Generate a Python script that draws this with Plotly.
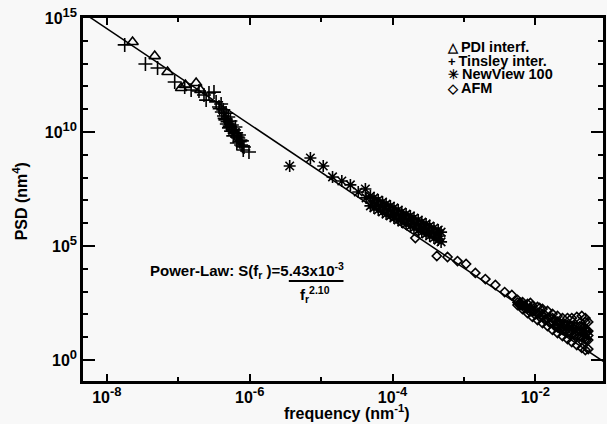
import numpy as np
import plotly.graph_objects as go

# ---- data (log10 of frequency [nm^-1] and log10 of PSD [nm^4]) ----
pdi_log_freq = [-7.64, -7.33, -7.15, -6.96, -6.90, -6.75, -6.69]
pdi_log_psd = [13.95, 13.33, 12.63, 11.93, 12.06, 12.15, 11.84]

tinsley_log_freq = [-7.75, -7.46, -7.29, -7.05, -6.91, -6.82, -6.71, -6.64, -6.57, -6.50,
                    -6.61, -6.47, -6.43, -6.40, -6.37, -6.36, -6.33, -6.30, -6.34, -6.32,
                    -6.27, -6.25, -6.29, -6.26, -6.22, -6.20, -6.19, -6.23, -6.15, -6.16,
                    -6.13, -6.11, -6.18, -6.12, -6.08, -6.09, -6.01,
                    -6.42, -6.39, -6.35, -6.31, -6.28, -6.24, -6.21, -6.17, -6.14, -6.10]
tinsley_log_psd = [13.82, 12.98, 12.81, 12.19, 11.97, 11.84, 11.80, 11.62, 11.71, 11.75,
                   11.40, 11.32, 11.10, 11.23, 10.97, 10.70, 10.83, 10.66, 10.53, 10.35,
                   10.48, 10.31, 10.18, 10.04, 10.09, 10.22, 9.96, 9.83, 9.87, 9.74,
                   9.65, 9.61, 9.52, 9.43, 9.34, 9.21, 9.12,
                   11.02, 10.88, 10.60, 10.45, 10.26, 10.12, 9.95, 9.78, 9.57, 9.38]

newview_log_freq = [-5.44, -5.15, -4.97, -4.84, -4.71, -4.59, -4.48, -4.38, -4.37,
                    -4.31, -4.26, -4.20, -4.14, -4.09, -4.03, -3.98, -3.92, -3.87, -3.81,
                    -3.75, -3.70, -3.64, -3.59, -3.53, -3.48, -3.42, -3.36, -3.32,
                    -4.31, -4.26, -4.20, -4.14, -4.09, -4.03, -3.98, -3.92, -3.87, -3.81,
                    -3.75, -3.70, -3.64, -3.59, -3.53, -3.48, -3.42, -3.36, -3.32,
                    -4.28, -4.23, -4.17, -4.12, -4.06, -4.00, -3.95, -3.89, -3.84, -3.78,
                    -3.73, -3.67, -3.61, -3.56, -3.50, -3.45, -3.39, -3.34]
newview_log_psd = [8.51, 8.86, 8.51, 8.03, 7.85, 7.68, 7.37, 7.50, 7.11,
                   7.19, 7.11, 7.02, 6.93, 6.84, 6.75, 6.67, 6.58, 6.49, 6.40,
                   6.32, 6.23, 6.14, 6.05, 5.97, 5.88, 5.79, 5.70, 5.61,
                   6.76, 6.67, 6.58, 6.49, 6.40, 6.32, 6.23, 6.14, 6.05, 5.97,
                   5.88, 5.79, 5.70, 5.61, 5.53, 5.44, 5.35, 5.26, 5.18,
                   6.93, 6.84, 6.75, 6.67, 6.58, 6.49, 6.40, 6.32, 6.23, 6.14,
                   6.05, 5.97, 5.88, 5.79, 5.70, 5.61, 5.53, 5.44]

afm_log_freq = [-3.68, -3.38, -3.23, -3.09, -2.97, -2.84, -2.70, -2.56, -2.43, -2.33,
                -2.21, -2.07, -1.94, -1.76, -1.58, -1.30, -1.28,
                -2.25, -2.18, -2.11, -2.04, -1.97, -1.90, -1.83, -1.76, -1.69, -1.62,
                -1.55, -1.49, -1.42, -1.35, -1.30, -1.26,
                -2.25, -2.18, -2.11, -2.04, -1.97, -1.90, -1.83, -1.76, -1.69, -1.62,
                -1.55, -1.49, -1.42, -1.35, -1.30, -1.26,
                -2.25, -2.18, -2.11, -2.04, -1.97, -1.90, -1.83, -1.76, -1.69, -1.62,
                -1.55, -1.49, -1.42, -1.35, -1.30, -1.26,
                -1.69, -1.62, -1.55, -1.49, -1.42, -1.35, -1.30, -1.26,
                -1.69, -1.62, -1.55, -1.49, -1.42, -1.35, -1.30, -1.26,
                -2.215, -2.146, -2.076, -2.006, -1.937, -1.867, -1.798, -1.728, -1.658,
                -1.589, -1.519, -1.450, -1.380, -1.325, -1.283,
                -2.215, -2.146, -2.076, -2.006, -1.937, -1.867, -1.798, -1.728, -1.658,
                -1.589, -1.519, -1.450, -1.380, -1.325, -1.283]
afm_log_psd = [5.35, 4.56, 4.52, 4.34, 4.21, 3.82, 3.55, 3.29, 2.98, 2.85,
               2.50, 2.50, 2.28, 1.84, 1.54, 1.67, 1.23,
               2.63, 2.54, 2.46, 2.37, 2.33, 2.24, 2.15, 2.02, 1.93, 1.84,
               1.84, 1.84, 1.89, 1.93, 1.84, 1.67,
               2.52, 2.39, 2.26, 2.13, 2.04, 1.93, 1.82, 1.67, 1.56, 1.45,
               1.38, 1.32, 1.27, 1.23, 1.14, 1.08,
               2.41, 2.24, 2.06, 1.89, 1.75, 1.62, 1.49, 1.32, 1.18, 1.05,
               0.92, 0.79, 0.66, 0.53, 0.44, 0.48,
               1.68, 1.58, 1.54, 1.49, 1.48, 1.46, 1.37, 1.27,
               1.43, 1.32, 1.23, 1.14, 1.07, 1.00, 0.91, 0.88,
               2.50, 2.38, 2.27, 2.17, 2.08, 1.98, 1.86, 1.73, 1.63,
               1.56, 1.51, 1.48, 1.47, 1.42, 1.32,
               2.41, 2.27, 2.12, 2.00, 1.89, 1.77, 1.63, 1.49, 1.37,
               1.27, 1.18, 1.10, 1.03, 0.95, 0.89]

# power-law fit shown on the chart: S(f) = 5.43e-3 / f^2.10
fit_coef = 5.43e-3
fit_exponent = 2.10
fit_log_freq_ends = [-8.33, -1.05]

series_names = ["PDI interf.", "Tinsley inter.", "NewView 100", "AFM"]
legend_symbols = ["\u25B3", "+", "\u2733", "\u25C7"]

x_tick_vals = [1e-8, 1e-6, 1e-4, 1e-2]
x_tick_exps = ["-8", "-6", "-4", "-2"]
x_minor_vals = [1e-7, 1e-5, 1e-3]
y_tick_vals = [1e0, 1e5, 1e10, 1e15]
y_tick_exps = ["0", "5", "10", "15"]
y_minor_vals = [10.0 ** k for k in range(0, 16) if k % 5 != 0]

# ---- layout geometry (pixels) ----
W, H = 607, 424
L, R, T, B = 83, 606, 18, 381
BG = "#f8f8f8"
FONT = "Liberation Sans"
SUP = "<sup><span style='font-size:13px'>{}</span></sup>"


def px(x):
    return (x - L) / (R - L)


def py(y):
    return (B - y) / (B - T)


fig = go.Figure()

fit_f = 10.0 ** np.array(fit_log_freq_ends)
fig.add_trace(go.Scatter(x=fit_f, y=fit_coef / fit_f ** fit_exponent, mode="lines",
                         line=dict(color="black", width=1.5), showlegend=False,
                         hoverinfo="skip"))


def add_series(logf, logs, name, symbol, size):
    fig.add_trace(go.Scatter(
        x=10.0 ** np.array(logf), y=10.0 ** np.array(logs), mode="markers", name=name,
        marker=dict(symbol=symbol, size=size, color="black",
                    line=dict(width=1.6, color="black")),
        showlegend=False, cliponaxis=True))


add_series(pdi_log_freq, pdi_log_psd, series_names[0], "triangle-up-open", 10)
add_series(tinsley_log_freq, tinsley_log_psd, series_names[1], "cross-thin-open", 10)
add_series(newview_log_freq, newview_log_psd, series_names[2], "asterisk-open", 10)
add_series(afm_log_freq, afm_log_psd, series_names[3], "diamond-open", 7)

axis_common = dict(
    type="log", showgrid=False, zeroline=False, showline=True, linewidth=2.5,
    linecolor="black", mirror="ticks", ticks="inside", tickwidth=2, tickcolor="black",
    tickfont=dict(family=FONT, size=16, color="black", weight="bold"),
)

fig.update_xaxes(**axis_common, range=[-8.334, -1.053], tickmode="array",
                 tickvals=x_tick_vals, ticktext=["10" + SUP.format(e) for e in x_tick_exps],
                 ticklen=7,
                 minor=dict(tickmode="array", tickvals=x_minor_vals, ticks="inside",
                            ticklen=4, tickwidth=1.5, tickcolor="black", showgrid=False))
fig.update_yaxes(**axis_common, range=[-0.92, 15.0], tickmode="array",
                 tickvals=y_tick_vals, ticktext=["10" + SUP.format(e) for e in y_tick_exps],
                 ticklen=12,
                 minor=dict(tickmode="array", tickvals=y_minor_vals, ticks="inside",
                            ticklen=5, tickwidth=1.5, tickcolor="black", showgrid=False))

annotations = []
# axis titles
annotations.append(dict(text="frequency (nm<sup>-1</sup>)", xref="paper", yref="paper",
                        x=px(349), y=py(412), xanchor="center", yanchor="middle",
                        showarrow=False, font=dict(family=FONT, size=16, color="black", weight="bold")))
annotations.append(dict(text="PSD (nm<sup>4</sup>)", xref="paper", yref="paper",
                        x=px(20), y=py(201), xanchor="center", yanchor="middle",
                        textangle=-90, showarrow=False,
                        font=dict(family=FONT, size=16, color="black", weight="bold")))
# legend: one text block with tight line spacing, as in the reference
legend_lines = ["<span style='font-size:13px'>{}</span> <span style='font-size:14.5px'>{}</span>"
                .format(s, n) for s, n in zip(legend_symbols, series_names)]
annotations.append(dict(text="<br>".join(legend_lines), xref="paper", yref="paper",
                        x=px(447), y=py(68), xanchor="left", yanchor="middle", align="left",
                        showarrow=False,
                        font=dict(family=FONT, size=10.5, color="black", weight="bold")))
# power-law formula
annotations.append(dict(text="Power-Law: S(f<sub>r</sub> )=5.43x10<sup>-3</sup>",
                        xref="paper", yref="paper", x=px(148), y=py(270),
                        xanchor="left", yanchor="middle", showarrow=False,
                        font=dict(family=FONT, size=15, color="black", weight="bold")))
annotations.append(dict(text="f<sub>r</sub><sup>2.10</sup>",
                        xref="paper", yref="paper", x=px(316), y=py(294),
                        xanchor="center", yanchor="middle", showarrow=False,
                        font=dict(family=FONT, size=15, color="black", weight="bold")))

fig.update_layout(
    width=W, height=H,
    margin=dict(l=L, r=W - R, t=T, b=H - B, pad=0),
    paper_bgcolor=BG, plot_bgcolor=BG,
    showlegend=False,
    annotations=annotations,
    shapes=[dict(type="line", xref="paper", yref="paper", x0=px(290), x1=px(345),
                 y0=py(281), y1=py(281), line=dict(color="black", width=2))],
)

fig.write_html("out.html")
